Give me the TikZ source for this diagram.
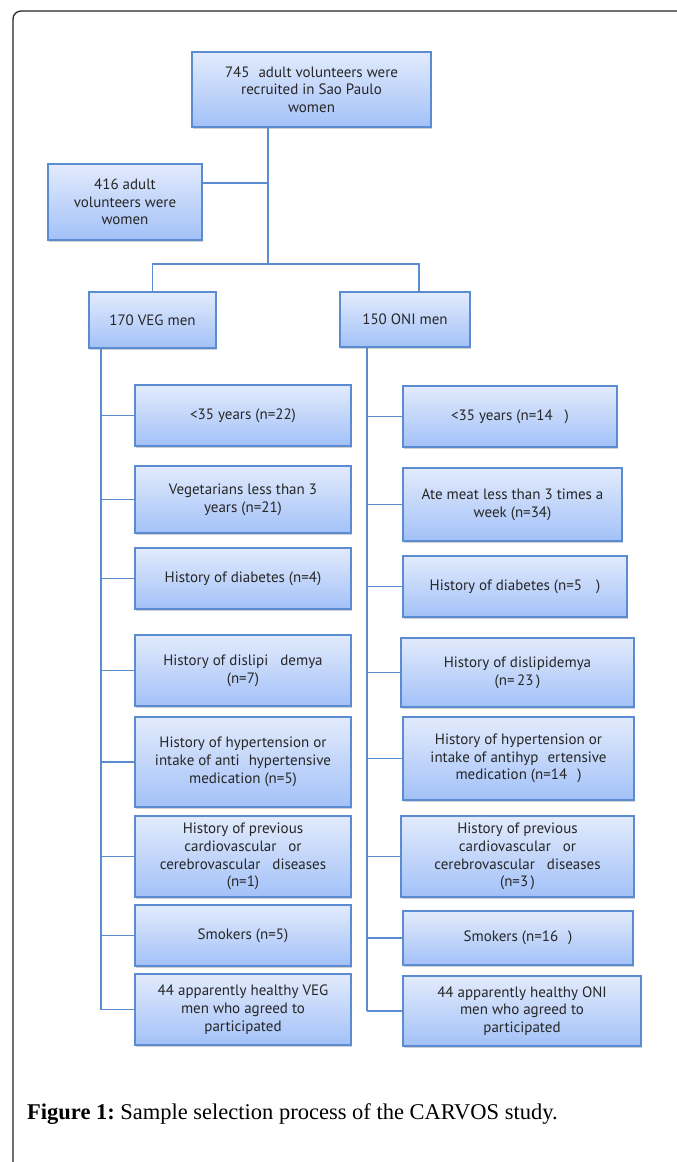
\documentclass[tikz,border=0pt]{standalone}
\usepackage{fontspec}
\setmainfont{Liberation Serif}
\newfontfamily\boxfont{PT Sans}
\usetikzlibrary{positioning,shadows}
\definecolor{boxline}{RGB}{91,139,209}
\definecolor{boxtop}{RGB}{226,235,252}
\definecolor{boxbot}{RGB}{163,193,248}

\begin{document}
\begin{tikzpicture}[
      x=1pt, y=-1pt,
      box/.style={draw=boxline, line width=1.2pt, top color=boxtop,
                  bottom color=boxbot, align=center, inner sep=2pt,
                  font=\boxfont\fontsize{15}{17.7}\selectfont, text=black!85,
                  drop shadow={shadow xshift=1pt, shadow yshift=-2pt,
                               opacity=0.3, fill=black!60}},
      link/.style={draw=boxline, line width=1.2pt},
      frame/.style={draw=black!85, line width=1.3pt, rounded corners=8pt},
    ]
    \useasboundingbox[fill=white] (0,0) rectangle (677,1162);
    \draw[frame] (13,1162) |- (677,11);

    % Recruitment
    \node[box, minimum width=239, minimum height=75] (top) at (311.5,89.5)
      {745\,\, adult volunteers were\\recruited in Sao Paulo\\women};
    \node[box, minimum width=154, minimum height=76] (women) at (125,202)
      {416 adult\\volunteers were\\women};
    \node[box, minimum width=127, minimum height=56] (veg) at (152.5,320)
      {170 VEG men};
    \node[box, minimum width=130, minimum height=55] (oni) at (405,319.5)
      {150 ONI men};

    % VEG exclusions
    \node[box, minimum width=216, minimum height=61] (v1) at (243,415.5)
      {<35 years (n=22)};
    \node[box, minimum width=216, minimum height=67] (v2) at (243,499.5)
      {Vegetarians less than 3\\years (n=21)};
    \node[box, minimum width=216, minimum height=61] (v3) at (243,578.5)
      {History of diabetes (n=4)};
    \node[box, minimum width=216, minimum height=71] (v4) at (243,670.5)
      {History of dislipi\hspace{12pt}demya\\(n=7)};
    \node[box, minimum width=216, minimum height=90] (v5) at (243,762)
      {History of hypertension or\\intake of anti\hspace{9pt}hypertensive\\medication (n=5)};
    \node[box, minimum width=216, minimum height=81] (v6) at (243,856.5)
      {History of previous\\cardiovascular\hspace{12pt}or\\cerebrovascular\hspace{12pt}diseases\\(n=1)};
    \node[box, minimum width=216, minimum height=61] (v7) at (243,935.5)
      {Smokers (n=5)};
    \node[box, minimum width=216, minimum height=71] (v8) at (243,1009.5)
      {44 apparently healthy VEG\\men who agreed to\\participated};

    % ONI exclusions
    \node[box, minimum width=214, minimum height=61] (o1) at (510,416.5)
      {<35 years (n=14\hspace{12pt})};
    \node[box, minimum width=219, minimum height=73] (o2) at (512.5,504.5)
      {Ate meat less than 3 times a\\week (n=34)};
    \node[box, minimum width=224, minimum height=61] (o3) at (515,586.5)
      {History of diabetes (n=5\hspace{14pt})};
    \node[box, minimum width=233, minimum height=69] (o4) at (517.5,672.5)
      {History of dislipidemya\\(n=\,23\,)};
    \node[box, minimum width=231, minimum height=83] (o5) at (518.5,758.5)
      {History of hypertension or\\intake of antihyp\hspace{9pt}ertensive\\medication (n=14\hspace{10pt})};
    \node[box, minimum width=233, minimum height=81] (o6) at (517.5,856.5)
      {History of previous\\cardiovascular\hspace{12pt}or\\cerebrovascular\hspace{12pt}diseases\\(n=3\,)};
    \node[box, minimum width=230, minimum height=54] (o7) at (518,938)
      {Smokers (n=16\hspace{10pt})};
    \node[box, minimum width=238, minimum height=70] (o8) at (522,1011)
      {44 apparently healthy ONI\\men who agreed to\\participated};

    % Connectors
    \coordinate (hub) at (268,264);
    \coordinate (wj)  at (268,183);
    \coordinate (oj)  at (419,264);
    \coordinate (vs)  at (101,0);
    \coordinate (os)  at (367,0);
    \draw[link] (top.south -| hub) -- (hub);
    \draw[link] (wj -| women.east) -- (wj);
    \draw[link] (veg.north) |- (hub) -- (oj) -- (oj |- oni.north);
    \draw[link] (vs |- veg.south) -- (vs |- v8.west);
    \draw[link] (os |- oni.south) -- (os |- o8.west);
    \foreach \n in {v1,v2,v3,v4,v5,v6,v7,v8}
      \draw[link] (vs |- \n.west) -- (\n.west);
    \foreach \n in {o1,o2,o3,o4,o5,o6,o7,o8}
      \draw[link] (os |- \n.west) -- (\n.west);

    % Caption
    \node[anchor=base west, inner sep=0pt, font=\fontsize{22.5}{27}\selectfont] (cap)
      at (27,1119) {\textbf{Figure 1:}\hspace{-2pt} Sample selection process of the CARVOS study.};
\end{tikzpicture}
\end{document}
